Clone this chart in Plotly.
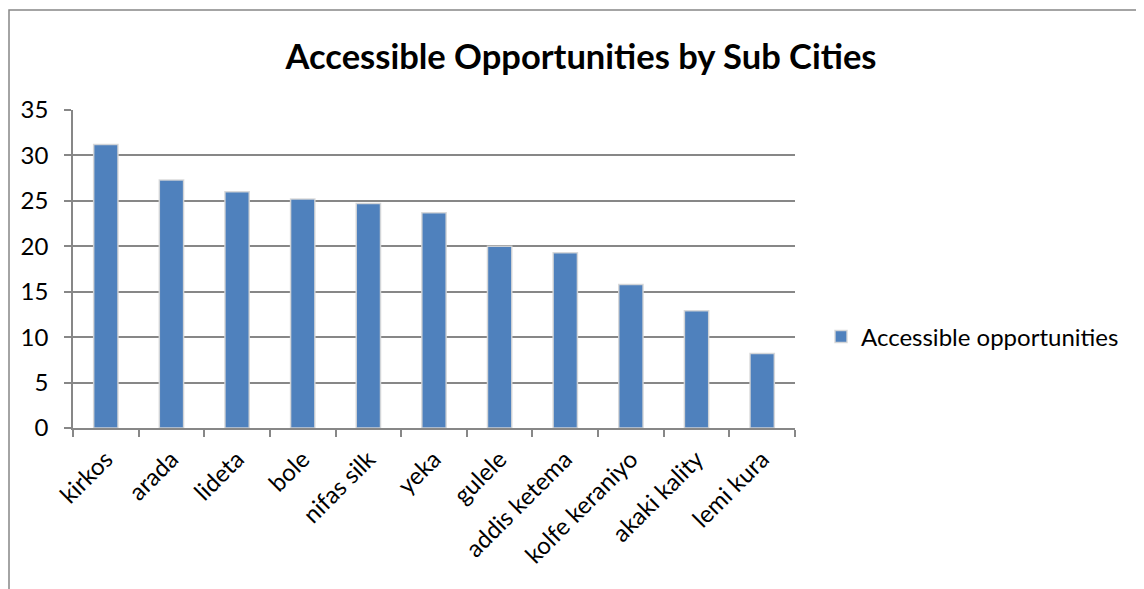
import plotly.graph_objects as go

SUB_CITIES = [
    "kirkos", "arada", "lideta", "bole", "nifas silk", "yeka",
    "gulele", "addis ketema", "kolfe keraniyo", "akaki kality", "lemi kura",
]
OPPORTUNITIES = [31.2, 27.3, 26.0, 25.2, 24.7, 23.7, 20.0, 19.3, 15.8, 12.9, 8.2]
Y_TICKS = [0, 5, 10, 15, 20, 25, 30, 35]

BAR_BLUE = "#4f81bd"
AXIS_GRAY = "#878787"
FONT = "Lato, 'Open Sans', sans-serif"

# the page body adds an 8px margin, so layout targets are shifted by -8
W, H = 1144, 589
L, R, T, B = 65, 357, 102, 169
PW, PH = W - L - R, H - T - B

fig = go.Figure()
fig.add_bar(
    x=SUB_CITIES,
    y=OPPORTUNITIES,
    name="Accessible opportunities",
    marker={"color": BAR_BLUE, "line": {"color": "rgba(215,215,215,0.9)", "width": 1.5}},
    showlegend=True,
)

# chart-area border (right and bottom edges fall outside the picture)
bx = (1 - L) / PW
by = 1 + (T - 2) / PH
fig.add_shape(
    type="path",
    xref="paper", yref="paper",
    path=f"M {bx},-0.7 L {bx},{by} L 1.7,{by}",
    line={"color": AXIS_GRAY, "width": 1.5},
)

fig.update_layout(
    width=W,
    height=H,
    margin={"l": L, "r": R, "t": T, "b": B},
    paper_bgcolor="white",
    plot_bgcolor="white",
    font={"family": FONT, "size": 24, "color": "black"},
    title={
        "text": "<b>Accessible Opportunities by Sub Cities</b>",
        "x": 573 / W, "xanchor": "center",
        "y": 1 - 49 / H, "yanchor": "middle", "yref": "container",
        "font": {"size": 34.5, "family": FONT, "color": "black"},
    },
    bargap=0.63,
    showlegend=True,
    legend={
        "x": (813 - L) / PW, "xanchor": "left",
        "y": (420 - 329) / PH, "yanchor": "middle",
        "font": {"size": 24},
        "itemwidth": 30,
        "bgcolor": "rgba(0,0,0,0)",
    },
)

fig.update_xaxes(
    type="category",
    tickangle=-45,
    tickson="boundaries",
    ticks="outside",
    ticklen=7,
    tickcolor=AXIS_GRAY,
    tickwidth=1.5,
    ticklabelstandoff=6,
    showline=True,
    linecolor=AXIS_GRAY,
    linewidth=1.5,
    showgrid=False,
    tickfont={"size": 24},
)
fig.update_yaxes(
    range=[0, 35],
    tickvals=Y_TICKS,
    ticks="outside",
    ticklen=7,
    tickcolor=AXIS_GRAY,
    tickwidth=1.5,
    ticklabelstandoff=11,
    showline=True,
    linecolor=AXIS_GRAY,
    linewidth=1.5,
    showgrid=True,
    gridcolor=AXIS_GRAY,
    gridwidth=1.5,
    zeroline=False,
    tickfont={"size": 24},
)

fig.write_html("out.html")
